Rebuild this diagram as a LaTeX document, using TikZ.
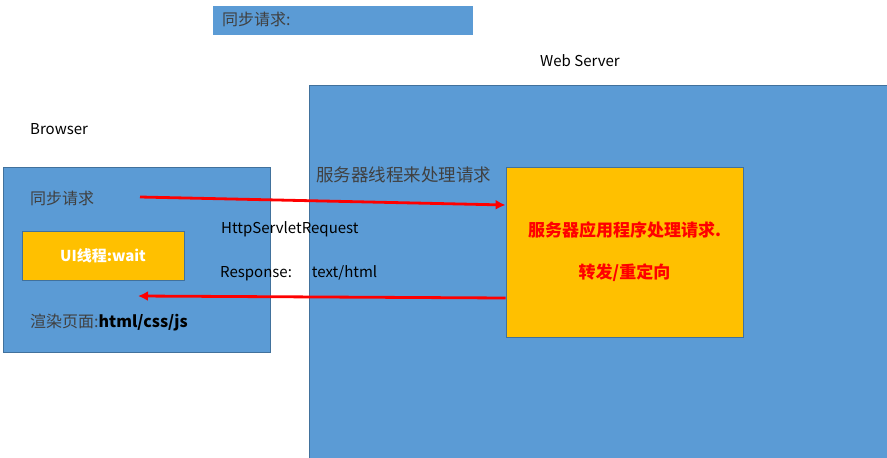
\documentclass[tikz,border=0pt]{standalone}
\usepackage{fontspec}
\setmainfont{Noto Sans CJK SC}
\usetikzlibrary{arrows.meta}
\definecolor{boxblue}{HTML}{5B9BD5}
\definecolor{edgeblue}{HTML}{41719C}
\definecolor{boxyellow}{HTML}{FFC000}
\definecolor{darktext}{HTML}{404040}
\tikzset{
  bluebox/.style={draw=edgeblue, fill=boxblue, line width=0.8pt, inner sep=0pt},
  yellowbox/.style={draw=edgeblue, fill=boxyellow, line width=0.8pt, inner sep=0pt},
  label/.style={inner sep=0pt, anchor=west, font=\fontsize{15}{17}\selectfont},
  cjk/.style={label, text=darktext, font=\fontsize{16}{18}\selectfont},
  redtext/.style={text=red, font=\fontsize{17}{19}\selectfont\bfseries, inner sep=0pt},
  flow/.style={draw=red, line width=2.8pt, -{Latex[length=10pt,width=10pt]}}
}
\begin{document}
\begin{tikzpicture}[x=1pt, y=-1pt]
  \useasboundingbox (0,0) rectangle (887,458);
  % boxes
  \node[fill=boxblue, minimum width=260pt, minimum height=29pt, inner sep=0pt] (sync) at (343,20.5) {};
  \node[bluebox, minimum width=581pt, minimum height=377pt] (server) at (599.5,273.5) {};
  \node[bluebox, minimum width=267pt, minimum height=185pt] (browser) at (136.5,259.5) {};
  \node[yellowbox, minimum width=162pt, minimum height=49pt, text=white, font=\fontsize{15}{17}\selectfont\bfseries] (ui) at (103,255.5) {UI线程:wait};
  \node[yellowbox, minimum width=237pt, minimum height=170pt] (app) at (624.5,252) {};
  % texts
  \node[cjk] (title) at (222,19) {同步请求:};
  \node[label] (webserver) at (540,61) {Web Server};
  \node[label] (browsertitle) at (30,129) {Browser};
  \node[cjk] (req) at (30,198) {同步请求};
  \node[cjk] (render) at (30,323) {渲染页面:\textcolor{black}{\textbf{html/css/js}}};
  \node[cjk, font=\fontsize{17.5}{19}\selectfont] (thread) at (316,175) {服务器线程来处理请求};
  \node[label] (httpreq) at (221,229) {HttpServletRequest};
  \node[label] (resp) at (220,273) {Response:\hspace{20pt}text/html};
  \node[redtext] (work) at (624.5,230) {服务器应用程序处理请求.};
  \node[redtext] (forward) at (624.5,273) {转发/重定向};
  % arrows
  \coordinate (reqstart) at (140,197);
  \coordinate (respend) at (138,296);
  \draw[flow] (reqstart) -- (app.west |- 0,205);
  \draw[flow] (app.west |- 0,298) -- (respend);
\end{tikzpicture}
\end{document}
